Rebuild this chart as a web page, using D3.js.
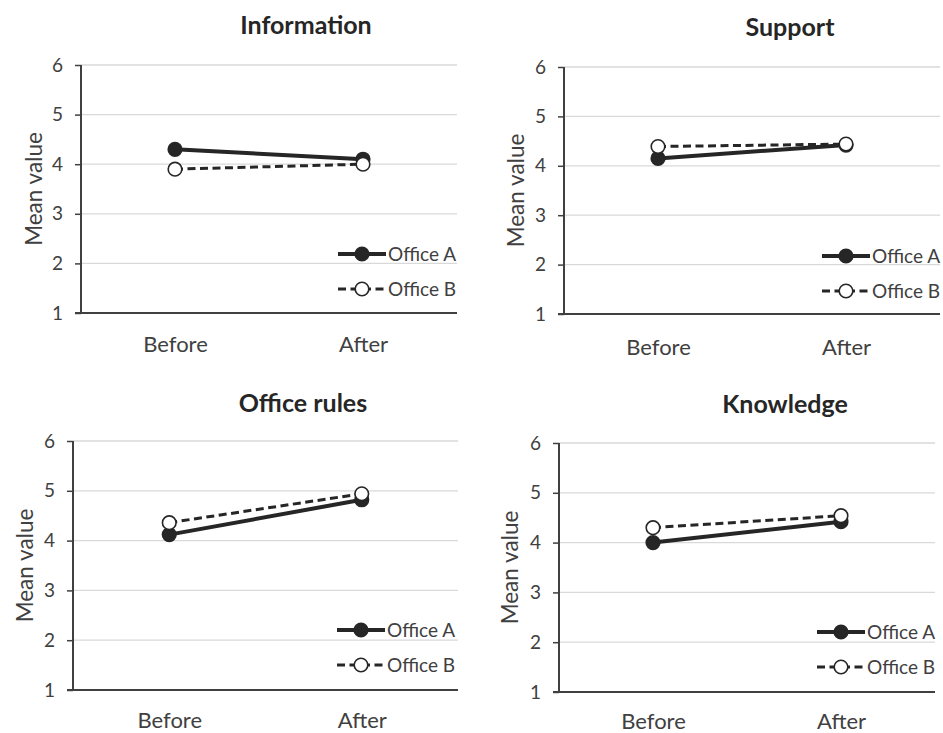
<!DOCTYPE html>
<html><head><meta charset="utf-8">
<script src="https://cdn.jsdelivr.net/npm/d3@7"></script>
<style>
html,body{margin:0;padding:0;background:#fff;}
svg{display:block;font-family:Lato,"Open Sans",sans-serif;}
</style></head>
<body>
<svg id="chart" width="943" height="733"></svg>
<script>
const categories = ["Before", "After"];
const panelTitles = ["Information", "Support", "Office rules", "Knowledge"];
const officeA = [[4.30, 4.10], [4.15, 4.42], [4.12, 4.82], [4.00, 4.42]];
const officeB = [[3.90, 4.00], [4.39, 4.44], [4.36, 4.94], [4.30, 4.54]];
const seriesNames = ["Office A", "Office B"];
const yTicks = [1, 2, 3, 4, 5, 6];
const yLabel = "Mean value";

// layout of each panel (pixels)
const layout = [
  {x0: 81, x1: 457, yTop: 65, yBot: 313, titleX: 306, titleY: 34, ylabX: 41.5, catY: 344, legX: 338, legY: 254},
  {x0: 564, x1: 940, yTop: 67, yBot: 314, titleX: 790, titleY: 36, ylabX: 523.5, catY: 347, legX: 822, legY: 256},
  {x0: 73, x1: 458, yTop: 441, yBot: 690, titleX: 303, titleY: 412, ylabX: 33, catY: 720, legX: 337, legY: 630},
  {x0: 559, x1: 935, yTop: 443, yBot: 692, titleX: 785, titleY: 413, ylabX: 518, catY: 721, legX: 817, legY: 632}
];

const svg = d3.select("#chart");
const textColor = "#404040";
const ink = "#262626";

panelTitles.forEach((title, i) => {
  const L = layout[i];
  const g = svg.append("g");
  const x = d3.scalePoint().domain(categories).range([L.x0, L.x1]).padding(0.5);
  const y = d3.scaleLinear().domain([1, 6]).range([L.yBot, L.yTop]);

  // gridlines
  g.append("g").selectAll("line").data(yTicks.filter(t => t > 1)).join("line")
    .attr("x1", L.x0).attr("x2", L.x1)
    .attr("y1", d => y(d)).attr("y2", d => y(d))
    .attr("stroke", "#d9d9d9").attr("stroke-width", 1.3);

  // y axis
  const yAxis = g.append("g").attr("transform", `translate(${L.x0},0)`)
    .call(d3.axisLeft(y).tickValues(yTicks).tickSize(6).tickPadding(12).tickFormat(d3.format("d")));
  yAxis.select(".domain").attr("stroke", "#404040").attr("stroke-width", 2).attr("d", `M0,${L.yTop}V${L.yBot}`);
  yAxis.selectAll(".tick line").attr("stroke", "#404040").attr("stroke-width", 1.5);
  yAxis.selectAll(".tick text").attr("fill", textColor).style("font-size", "19px").style("font-family", "Lato, sans-serif");

  // x axis
  const xAxis = g.append("g").attr("transform", `translate(0,${L.yBot})`)
    .call(d3.axisBottom(x).tickSize(0).tickPadding(0));
  xAxis.select(".domain").attr("stroke", "#404040").attr("stroke-width", 2).attr("d", `M${L.x0 - 6},0H${L.x1}`);
  xAxis.selectAll(".tick text").attr("fill", textColor).attr("y", L.catY - L.yBot).attr("dy", "0.35em")
    .style("font-size", "22px").style("font-family", "Lato, sans-serif");

  // title
  g.append("text").attr("x", L.titleX).attr("y", L.titleY).attr("text-anchor", "middle")
    .attr("fill", ink).style("font-size", "25px").style("font-weight", "bold").text(title);

  // y label
  const ymid = (L.yTop + L.yBot) / 2;
  g.append("text").attr("transform", `translate(${L.ylabX},${ymid}) rotate(-90)`)
    .attr("text-anchor", "middle").attr("fill", textColor).style("font-size", "22.5px").text(yLabel);

  const line = d3.line().x((d, j) => x(categories[j])).y(d => y(d));
  const series = [
    {vals: officeA[i], dash: null, fill: ink, w: 4},
    {vals: officeB[i], dash: "8,4.5", fill: "#ffffff", w: 3}
  ];
  [series[1], series[0]].forEach(s => {
    g.append("path").datum(s.vals).attr("d", line).attr("fill", "none")
      .attr("stroke", ink).attr("stroke-width", s.w).attr("stroke-dasharray", s.dash);
  });
  [series[0], series[1]].forEach(s => {
    g.append("g").selectAll("circle").data(s.vals).join("circle")
      .attr("cx", (d, j) => x(categories[j])).attr("cy", d => y(d)).attr("r", 6.8)
      .attr("fill", s.fill).attr("stroke", ink).attr("stroke-width", 1.6);
  });

  // legend
  series.forEach((s, k) => {
    const ly = L.legY + k * 35;
    g.append("line").attr("x1", L.legX).attr("x2", L.legX + 48).attr("y1", ly).attr("y2", ly)
      .attr("stroke", ink).attr("stroke-width", s.w).attr("stroke-dasharray", s.dash);
    g.append("circle").attr("cx", L.legX + 24).attr("cy", ly).attr("r", 6.8)
      .attr("fill", s.fill).attr("stroke", ink).attr("stroke-width", 1.6);
    g.append("text").attr("x", L.legX + 50).attr("y", ly).attr("dy", "0.35em")
      .attr("fill", textColor).style("font-size", "19px").text(seriesNames[k]);
  });
});
</script>
</body></html>
